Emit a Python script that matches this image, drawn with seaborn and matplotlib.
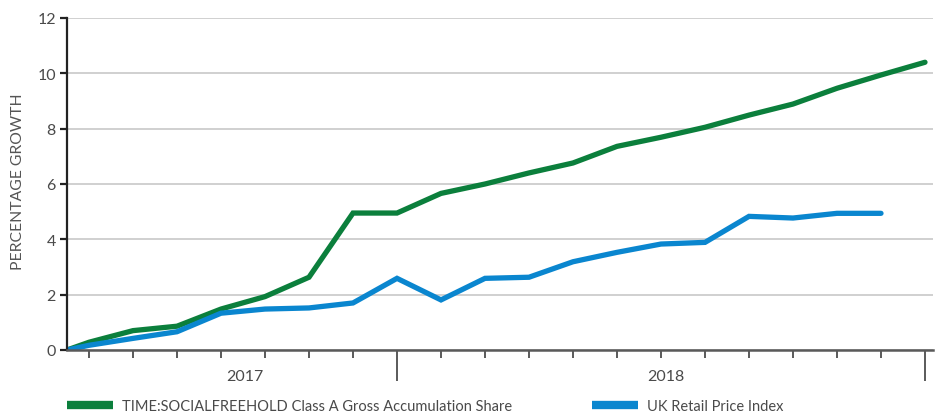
import matplotlib
matplotlib.use("Agg")
import matplotlib.pyplot as plt
import seaborn as sns
import pandas as pd
import numpy as np
from matplotlib.lines import Line2D

# month positions (0 = start, half-month offset, then monthly)
months = [0, 0.5, 1.5, 2.5, 3.5, 4.5, 5.5, 6.5, 7.5, 8.5, 9.5, 10.5,
          11.5, 12.5, 13.5, 14.5, 15.5, 16.5, 17.5, 18.5, 19.5]
fund = [0, 0.28, 0.70, 0.86, 1.48, 1.93, 2.63, 4.95, 4.95, 5.66, 6.0,
        6.40, 6.76, 7.36, 7.69, 8.05, 8.49, 8.89, 9.46, 9.94, 10.40]
rpi = [0, 0.17, 0.42, 0.66, 1.33, 1.48, 1.52, 1.70, 2.59, 1.81, 2.59,
       2.63, 3.19, 3.53, 3.83, 3.89, 4.83, 4.77, 4.94, 4.94]
series_names = ["TIME:SOCIALFREEHOLD Class A Gross Accumulation Share",
                "UK Retail Price Index"]
colors = ["#0b7f3c", "#0a86cf"]
yticks = [0, 2, 4, 6, 8, 10, 12]
year_labels = ["2017", "2018"]
year_label_pos = [4.05, 13.6]
year_bounds = [7.5, 19.5]

df = pd.concat([
    pd.DataFrame({"x": months, "y": fund, "series": series_names[0]}),
    pd.DataFrame({"x": months[:len(rpi)], "y": rpi, "series": series_names[1]}),
])

sns.set_theme(style="white")
plt.rcParams["font.family"] = ["Lato", "DejaVu Sans"]

fig = plt.figure(figsize=(9.41, 4.14), dpi=100)
ax = fig.add_axes([67/941, 1 - 351/414, (933-67)/941, (351-19)/414])

sns.lineplot(data=df, x="x", y="y", hue="series", palette=colors,
             linewidth=3.8, ax=ax, legend=False, solid_capstyle="round",
             solid_joinstyle="miter")

ax.set_xlim(0, (933-67)/44)
ax.set_ylim(0, 12)
ax.set_yticks(yticks)
ax.set_yticklabels([str(t) for t in yticks], color="#4a4a4a", fontsize=11.5)
ax.yaxis.grid(True, color="#c8c8c8", linewidth=1.2)
ax.set_axisbelow(True)
for s in ["top", "right"]:
    ax.spines[s].set_visible(False)
ax.spines["left"].set_color("#222222")
ax.spines["left"].set_linewidth(1.6)
ax.spines["bottom"].set_color("#5a5a5a")
ax.spines["bottom"].set_linewidth(1.8)
ax.tick_params(axis="y", length=5, width=1.6, color="#222222", pad=3, left=True)

minor = [m for m in months[1:] if m not in year_bounds]
ax.set_xticks(year_bounds)
ax.set_xticklabels([])
ax.set_xticks(minor, minor=True)
ax.tick_params(axis="x", which="major", length=22, width=1.4, color="#5a5a5a", bottom=True)
ax.tick_params(axis="x", which="minor", length=6, width=1.4, color="#5a5a5a", bottom=True)
for lab, pos in zip(year_labels, year_label_pos):
    ax.text(pos, -0.95, lab, ha="center", va="center", fontsize=11.5,
            color="#4a4a4a", transform=ax.transData)

ax.set_xlabel("")
ax.set_ylabel("PERCENTAGE GROWTH", color="#555555", fontsize=11.3)
ax.yaxis.set_label_coords(-(67-25)/866, 0.51)

handles = [Line2D([0], [0], color=c, linewidth=6, solid_capstyle="butt") for c in colors]
leg = fig.legend(handles, series_names, loc="center left",
                 bbox_to_anchor=(67/941, 1 - 407/414), ncol=2, frameon=False,
                 fontsize=10.5, handlelength=3.15, handletextpad=0.6,
                 columnspacing=5.5, borderpad=0, borderaxespad=0)
for t in leg.get_texts():
    t.set_color("#4a4a4a")

fig.savefig("out.png", dpi=100)
